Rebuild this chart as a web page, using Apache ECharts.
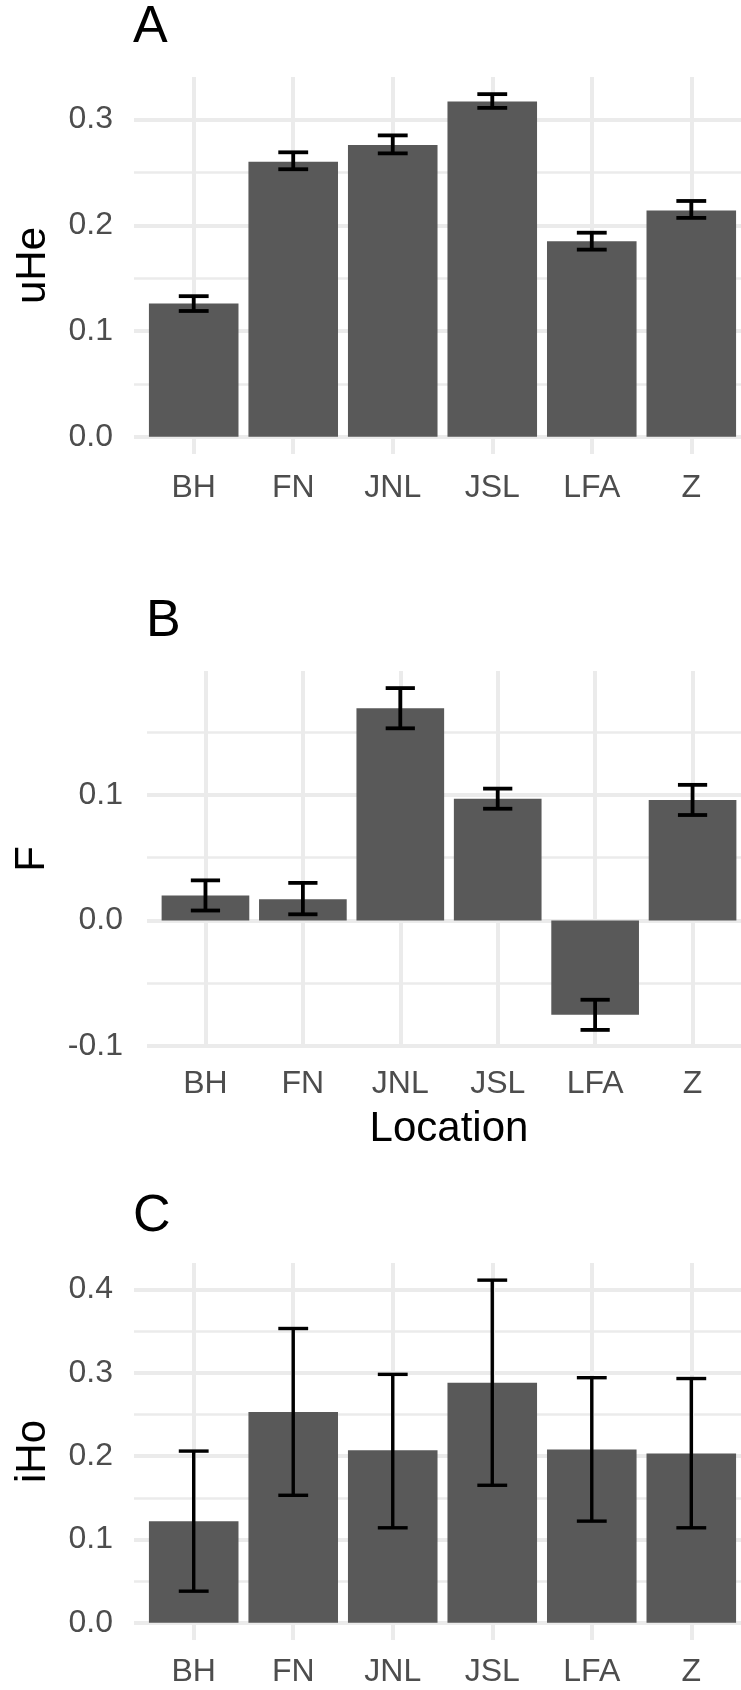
<!DOCTYPE html>
<html>
<head>
<meta charset="utf-8">
<script src="https://cdn.jsdelivr.net/npm/echarts@6/dist/echarts.min.js"></script>
<style>
html,body{margin:0;padding:0;background:#fff;}
#chart{width:741px;height:1690px;}
</style>
</head>
<body>
<div id="chart"></div>
<script>
// ---- data ----
const categories = ['BH', 'FN', 'JNL', 'JSL', 'LFA', 'Z'];

const uHe     = [0.126, 0.260, 0.276, 0.317, 0.185, 0.214];
const uHeLow  = [0.119, 0.253, 0.268, 0.311, 0.177, 0.207];
const uHeHigh = [0.133, 0.269, 0.285, 0.324, 0.193, 0.223];

const F     = [0.020, 0.017, 0.169, 0.097, -0.075, 0.096];
const FLow  = [0.008, 0.005, 0.153, 0.089, -0.087, 0.084];
const FHigh = [0.032, 0.030, 0.185, 0.105, -0.063, 0.108];

const iHo     = [0.122, 0.253, 0.207, 0.288, 0.208, 0.203];
const iHoLow  = [0.038, 0.153, 0.114, 0.165, 0.122, 0.114];
const iHoHigh = [0.206, 0.353, 0.298, 0.411, 0.294, 0.293];

const uHeTicks = [0, 0.1, 0.2, 0.3];
const uHeMinor = [0.05, 0.15, 0.25];
const FTicks = [-0.1, 0, 0.1];
const FMinor = [-0.05, 0.05, 0.15];
const iHoTicks = [0, 0.1, 0.2, 0.3, 0.4];
const iHoMinor = [0.05, 0.15, 0.25, 0.35];

// ---- layout / style ----
const FONT = 'Liberation Sans, Arial, Helvetica, sans-serif';
const BAR_COLOR = '#595959';
const GRID_COLOR = '#ebebeb';
const catPos = categories.map((c, i) => i + 1);

const panels = [
  { tag: 'A', name: 'uHe', val: uHe, lo: uHeLow, hi: uHeHigh, ticks: uHeTicks, minor: uHeMinor,
    grid: { left: 134, top: 77, width: 617, height: 377 }, tagTop: 2, nameGap: 80, xMargin: 18, yMargin: 21, xName: '', ebWidth: 3.8 },
  { tag: 'B', name: 'F', val: F, lo: FLow, hi: FHigh, ticks: FTicks, minor: FMinor,
    grid: { left: 147, top: 671, width: 604, height: 376 }, tagTop: 596, nameGap: 94, xMargin: 21, yMargin: 24, xName: 'Location', ebWidth: 3.8 },
  { tag: 'C', name: 'iHo', val: iHo, lo: iHoLow, hi: iHoHigh, ticks: iHoTicks, minor: iHoMinor,
    grid: { left: 134, top: 1263, width: 617, height: 377 }, tagTop: 1191, nameGap: 80, xMargin: 16, yMargin: 21, xName: '', ebWidth: 3.4 }
];

// ggplot-like 5% expansion of the continuous axis, computed from the data
function yRange(p) {
  const lo = Math.min(0, ...p.lo, ...p.val);
  const hi = Math.max(0, ...p.hi, ...p.val);
  const r = hi - lo;
  return [lo - 0.05 * r, hi + 0.05 * r];
}

const option = {
  animation: false,
  backgroundColor: '#fff',
  title: [], grid: [], xAxis: [], yAxis: [], series: []
};

panels.forEach((p, i) => {
  const [ymin, ymax] = yRange(p);
  option.title.push({
    text: p.tag, left: p.grid.left - 1, top: p.tagTop, padding: 0,
    textStyle: { fontSize: 52, fontWeight: 'normal', color: '#000', fontFamily: FONT }
  });
  option.grid.push(Object.assign({ containLabel: false, outerBoundsMode: 'none' }, p.grid));
  option.xAxis.push({
    type: 'value', gridIndex: i,
    min: 1 - 0.6, max: categories.length + 0.6,
    name: p.xName, nameLocation: 'middle', nameGap: 61,
    nameTextStyle: { fontSize: 42, color: '#000', fontFamily: FONT },
    axisLine: { show: false },
    axisTick: { show: false, customValues: catPos },
    axisLabel: { customValues: catPos, formatter: v => categories[Math.round(v) - 1] || '',
      fontSize: 32, color: '#4d4d4d', fontFamily: FONT, margin: p.xMargin },
    splitLine: { show: true, lineStyle: { color: GRID_COLOR, width: 4 } }
  });
  const majorIdx = option.yAxis.length;
  option.yAxis.push({
    type: 'value', gridIndex: i, min: ymin, max: ymax,
    name: p.name, nameLocation: 'middle', nameGap: p.nameGap, nameRotate: 90,
    nameTextStyle: { fontSize: 42, color: '#000', fontFamily: FONT },
    axisLine: { show: false },
    axisTick: { show: false, customValues: p.ticks },
    axisLabel: { customValues: p.ticks, formatter: v => v.toFixed(1),
      fontSize: 32, color: '#4d4d4d', fontFamily: FONT, margin: p.yMargin },
    splitLine: { show: true, lineStyle: { color: GRID_COLOR, width: 4 } }
  });
  option.yAxis.push({
    type: 'value', gridIndex: i, min: ymin, max: ymax, position: 'left',
    axisLine: { show: false },
    axisTick: { show: false, customValues: p.minor },
    axisLabel: { show: false, customValues: p.minor },
    splitLine: { show: true, lineStyle: { color: GRID_COLOR, width: 2.5 } }
  });
  option.series.push({
    type: 'bar', xAxisIndex: i, yAxisIndex: majorIdx,
    data: p.val.map((v, k) => [catPos[k], v]),
    barWidth: '90%',
    itemStyle: { color: BAR_COLOR }
  });
  option.series.push({
    type: 'custom', xAxisIndex: i, yAxisIndex: majorIdx,
    data: p.val.map((v, k) => [catPos[k], p.lo[k], p.hi[k]]),
    encode: { x: 0, y: [1, 2] },
    z: 10,
    renderItem: function (params, api) {
      const x = api.value(0);
      const a = api.coord([x, api.value(1)]);
      const b = api.coord([x, api.value(2)]);
      const half = api.size([0.3, 0])[0] / 2;
      const style = { stroke: '#000', lineWidth: p.ebWidth };
      return {
        type: 'group',
        children: [
          { type: 'line', shape: { x1: a[0], y1: a[1], x2: b[0], y2: b[1] }, style },
          { type: 'line', shape: { x1: a[0] - half, y1: a[1], x2: a[0] + half, y2: a[1] }, style },
          { type: 'line', shape: { x1: b[0] - half, y1: b[1], x2: b[0] + half, y2: b[1] }, style }
        ]
      };
    }
  });
});

const chart = echarts.init(document.getElementById('chart'), null, { renderer: 'canvas' });
chart.setOption(option);
</script>
</body>
</html>
